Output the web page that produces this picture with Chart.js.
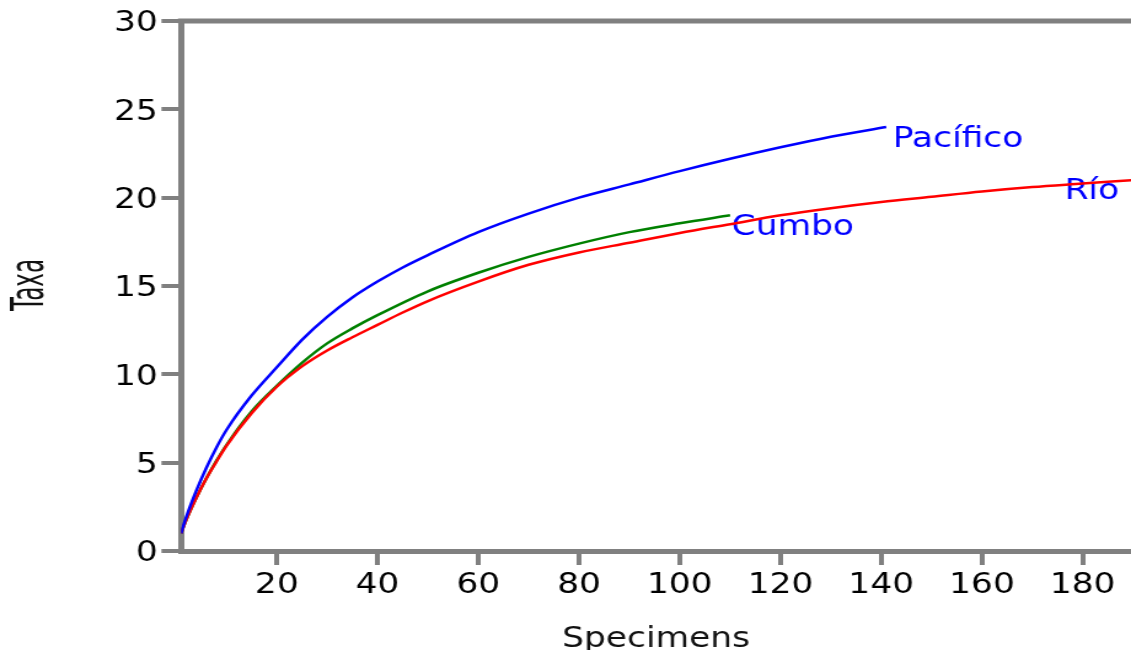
<!DOCTYPE html>
<html>
<head>
<meta charset="utf-8">
<script src="https://cdn.jsdelivr.net/npm/chart.js@4.4.0/dist/chart.umd.min.js"></script>
<style>
    html, body { margin: 0; padding: 0; background: #fff; overflow: hidden; }
    #chart { display: block; }
</style>
</head>
<body>
<canvas id="chart" width="920" height="650" style="width:1131px;height:650px"></canvas>
<script>
// rarefaction curves
const pacificoX = [1, 2, 4, 6, 8, 10, 15, 20, 25, 30, 35, 40, 45, 50, 60, 70, 80, 90, 100, 110, 120, 130, 141];
const pacificoY = [1.0, 1.9, 3.4, 4.7, 5.85, 6.85, 8.8, 10.4, 11.95, 13.25, 14.35, 15.25, 16.05, 16.75, 18.05, 19.1, 20.0, 20.75, 21.5, 22.2, 22.85, 23.45, 24.0];

const cumboX = [1, 2, 4, 6, 8, 10, 15, 20, 25, 30, 35, 40, 50, 60, 70, 80, 90, 100, 110];
const cumboY = [1.0, 1.75, 3.0, 4.1, 5.1, 6.0, 7.9, 9.35, 10.65, 11.75, 12.6, 13.35, 14.7, 15.75, 16.65, 17.4, 18.05, 18.55, 19.0];

const rioX = [1, 2, 4, 6, 8, 10, 15, 20, 25, 30, 35, 40, 45, 50, 60, 70, 80, 90, 100, 110, 120, 130, 140, 150, 160, 170, 180, 190];
const rioY = [1.0, 1.75, 3.0, 4.1, 5.05, 5.95, 7.8, 9.3, 10.45, 11.35, 12.1, 12.8, 13.5, 14.15, 15.25, 16.2, 16.9, 17.45, 18.0, 18.5, 19.0, 19.4, 19.75, 20.05, 20.35, 20.6, 20.8, 21.0];

const xTicks = [20, 40, 60, 80, 100, 120, 140, 160, 180];
const yTicks = [0, 5, 10, 15, 20, 25, 30];

// curve names and where their text sits (data units, baseline-left)
const seriesNames = ['Pacífico', 'Río', 'Cumbo'];
const labelX = [142.3, 176.4, 110.3];
const labelY = [22.87, 19.9, 17.87];

const gray = '#808080';
Chart.defaults.font.family = '"DejaVu Sans", sans-serif';

function toPoints(xs, ys) {
    return xs.map((x, i) => ({ x: x, y: ys[i] }));
}

const curveLabels = {
    id: 'curveLabels',
    beforeDatasetsDraw(chart) {
        const { ctx, scales } = chart;
        ctx.save();
        ctx.font = '28px "DejaVu Sans"';
        ctx.fillStyle = '#0000ff';
        ctx.textAlign = 'left';
        ctx.textBaseline = 'alphabetic';
        seriesNames.forEach((name, i) => {
            ctx.fillText(name, scales.x.getPixelForValue(labelX[i]), scales.y.getPixelForValue(labelY[i]));
        });
        ctx.restore();
    },
    afterDraw(chart) {
        const { ctx, chartArea } = chart;
        ctx.save();
        // top frame line
        ctx.strokeStyle = gray;
        ctx.lineWidth = 5;
        ctx.beginPath();
        ctx.moveTo(chartArea.left - 2.5, chartArea.top);
        ctx.lineTo(chartArea.right, chartArea.top);
        ctx.stroke();

        ctx.fillStyle = '#111';
        ctx.font = '28px "DejaVu Sans"';
        ctx.textAlign = 'center';
        ctx.textBaseline = 'alphabetic';
        ctx.fillText('Specimens', (chartArea.left + chartArea.right) / 2, 646.5);

        // y title looks squeezed along its length in the source
        ctx.translate(35, 285);
        ctx.rotate(-Math.PI / 2);
        ctx.scale(0.82, 1.32);
        ctx.fillText('Taxa', 0, 0);
        ctx.restore();
    }
};

const chart = new Chart(document.getElementById('chart'), {
    type: 'line',
    data: {
        datasets: [{
            label: 'Pacífico',
            data: toPoints(pacificoX, pacificoY),
            borderColor: '#0000ff'
        }, {
            label: 'Río',
            data: toPoints(rioX, rioY),
            borderColor: '#ff0000'
        }, {
            label: 'Cumbo',
            data: toPoints(cumboX, cumboY),
            borderColor: '#008000'
        }]
    },
    options: {
        responsive: false,
        animation: false,
        devicePixelRatio: 1,
        layout: { padding: { top: 21, right: 0, bottom: 0, left: 0 } },
        elements: {
            point: { radius: 0 },
            line: { borderWidth: 2.5, cubicInterpolationMode: 'monotone', fill: false }
        },
        plugins: {
            legend: { display: false },
            tooltip: { enabled: false }
        },
        scales: {
            x: {
                type: 'linear',
                min: 1,
                max: 189.6,
                afterBuildTicks: function (scale) {
                    scale.ticks = xTicks.map(v => ({ value: v }));
                },
                afterFit: function (scale) {
                    scale.height = 99;
                },
                grid: { drawOnChartArea: false, drawTicks: true, tickLength: 14, color: gray, lineWidth: 4 },
                border: { color: gray, width: 5 },
                ticks: {
                    color: '#000',
                    font: { size: 28 },
                    padding: 4,
                    maxRotation: 0,
                    autoSkip: false
                }
            },
            y: {
                min: 0,
                max: 30,
                afterBuildTicks: function (scale) {
                    scale.ticks = yTicks.map(v => ({ value: v }));
                },
                afterFit: function (scale) {
                    scale.width = 147.3;
                },
                grid: { drawOnChartArea: false, drawTicks: true, tickLength: 16, color: gray, lineWidth: 4 },
                border: { color: gray, width: 5 },
                ticks: {
                    color: '#000',
                    font: { size: 28 },
                    padding: 3,
                    labelOffset: 3
                }
            }
        }
    },
    plugins: [curveLabels]
});
</script>
</body>
</html>
